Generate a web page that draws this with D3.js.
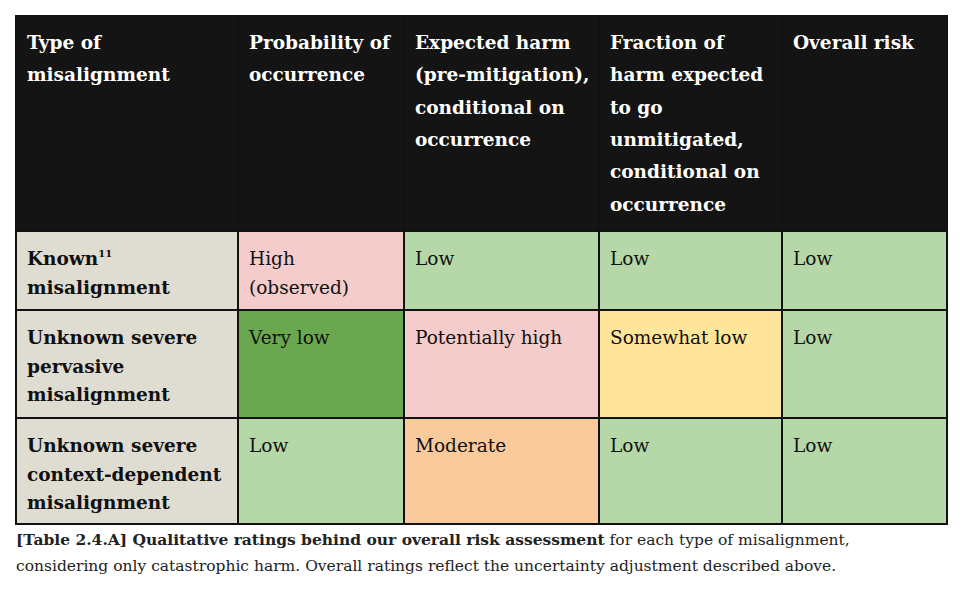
<!DOCTYPE html>
<html><head><meta charset="utf-8">
<script src="https://cdn.jsdelivr.net/npm/d3@7"></script>
<style>body{margin:0;background:#fff}</style></head>
<body><svg id="c" width="970" height="598"></svg>
<script>
const headers = [["Type of","misalignment"],["Probability of","occurrence"],["Expected harm","(pre-mitigation),","conditional on","occurrence"],["Fraction of","harm expected","to go","unmitigated,","conditional on","occurrence"],["Overall risk"]];
const rowLabels = [["Known|11","misalignment"],["Unknown severe","pervasive","misalignment"],["Unknown severe","context-dependent","misalignment"]];
const ratings = [
  [["High","(observed)"],["Low"],["Low"],["Low"]],
  [["Very low"],["Potentially high"],["Somewhat low"],["Low"]],
  [["Low"],["Moderate"],["Low"],["Low"]]
];
const ratingColors = {"High":"#f4cccc","Low":"#b6d7a8","Very low":"#6aa84f","Potentially high":"#f4cccc","Somewhat low":"#ffe599","Moderate":"#f9cb9c"};
const captionBold = "[Table 2.4.A] Qualitative ratings behind our overall risk assessment";
const captionRest = " for each type of misalignment,";
const caption2 = "considering only catastrophic harm. Overall ratings reflect the uncertainty adjustment described above.";

const colEdges = [16,238,404,599,782,947];
const rowEdges = [16,231,310,418,524];
const svg = d3.select("#c");
const font = "'DejaVu Serif', serif";
const x = i=>colEdges[i], y=i=>rowEdges[i];
const lh = 32.3;
// header
headers.forEach((h,i)=>{
  svg.append("rect").attr("x",x(i)).attr("y",y(0)).attr("width",x(i+1)-x(i)).attr("height",y(1)-y(0)).attr("fill","#141414");
  const t=svg.append("text").attr("font-family",font).attr("font-weight","bold").attr("font-size",18.5).attr("fill","#fff");
  h.forEach((l,k)=>t.append("tspan").attr("x",x(i)+11).attr("y",y(0)+33+k*lh).text(l));
});
rowLabels.forEach((r,j)=>{
  svg.append("rect").attr("x",x(0)).attr("y",y(j+1)).attr("width",x(1)-x(0)).attr("height",y(j+2)-y(j+1)).attr("fill","#dfdcd2");
  const t=svg.append("text").attr("font-family",font).attr("font-weight","bold").attr("font-size",18.5).attr("fill","#111");
  r.forEach((l,k)=>{
    const [a,sup]=l.split("|");
    const ts=t.append("tspan").attr("x",x(0)+11).attr("y",y(j+1)+34+k*28.5).text(a);
    if(sup) t.append("tspan").attr("dy",-8).attr("font-size",10).text(sup);
  });
  ratings[j].forEach((c,i)=>{
    svg.append("rect").attr("x",x(i+1)).attr("y",y(j+1)).attr("width",x(i+2)-x(i+1)).attr("height",y(j+2)-y(j+1)).attr("fill",ratingColors[c[0]]);
    const tt=svg.append("text").attr("font-family",font).attr("font-size",18.5).attr("fill","#111");
    c.forEach((l,k)=>tt.append("tspan").attr("x",x(i+1)+11).attr("y",y(j+1)+34+k*28.5).text(l));
  });
  ratings[j]; 
});
// overall risk column
rowLabels.forEach((r,j)=>{
  svg.append("rect").attr("x",x(4)).attr("y",y(j+1)).attr("width",x(5)-x(4)).attr("height",y(j+2)-y(j+1)).attr("fill",ratingColors["Low"]);
  svg.append("text").attr("font-family",font).attr("font-size",18.5).attr("fill","#111").attr("x",x(4)+11).attr("y",y(j+1)+34).text("Low");
});
// grid lines
const g=svg.append("g").attr("stroke","#111").attr("stroke-width",2);
colEdges.forEach(c=>g.append("line").attr("x1",c).attr("x2",c).attr("y1",y(0)).attr("y2",y(4)));
rowEdges.forEach(r=>g.append("line").attr("x1",x(0)-1).attr("x2",x(5)+1).attr("y1",r).attr("y2",r));
const cap=svg.append("text").attr("font-family",font).attr("font-size",15.5).attr("fill","#222").attr("x",16).attr("y",545);
cap.append("tspan").attr("font-weight","bold").text(captionBold);
cap.append("tspan").text(captionRest);
svg.append("text").attr("font-family",font).attr("font-size",15.5).attr("fill","#222").attr("x",16).attr("y",571).text(caption2);
</script></body></html>
